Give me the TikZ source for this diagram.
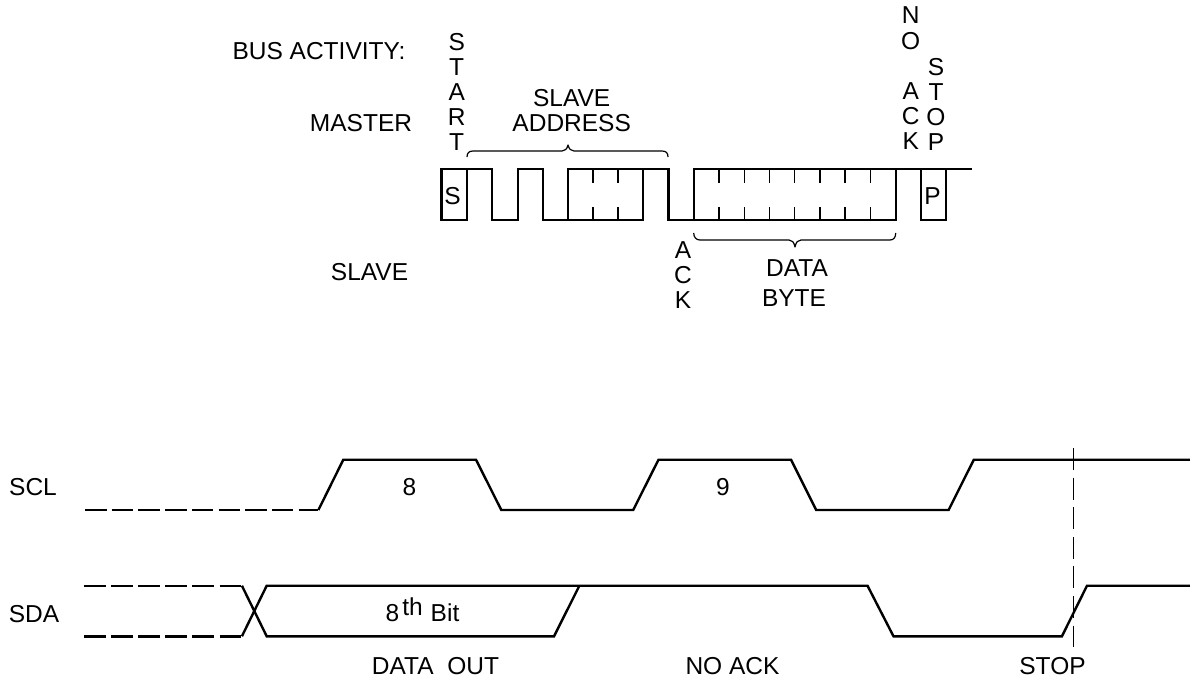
\documentclass[tikz,border=0pt]{standalone}
\usepackage{fontspec}
\setmainfont{Liberation Sans}
\tikzset{
  lbl/.style={inner sep=0pt,outer sep=0pt,anchor=base,align=center,font=\fontsize{24.5}{25.2}\selectfont},
  col/.style={inner sep=0pt,outer sep=0pt,anchor=north,align=center,font=\fontsize{24.5}{25.2}\selectfont},
  wave/.style={line width=2.4pt,line join=miter,line cap=butt},
  tick/.style={line width=1.3pt},
  bracepath/.style={line width=1.2pt,line join=round},
  lead/.style={line width=2.4pt,dash pattern=on 21.5pt off 5.2pt},
  leadb/.style={line width=2.4pt,dash pattern=on 21.5pt off 5.6pt},
  stopline/.style={line width=1.1pt,dash pattern=on 22pt off 7.6pt}
}
\begin{document}
\begin{tikzpicture}[x=1pt,y=-1pt]
\useasboundingbox (0,0) rectangle (1190,677);
% upper waveform
\draw[wave] (441.5,169) rectangle (466.8,220);
\draw[wave] (466.8,169) -- (492.2,169) -- (492.2,220) -- (517.7,220) -- (517.7,169) -- (542.9,169) -- (542.9,220) -- (567.9,220) -- (567.9,169) -- (668.3,169) -- (668.3,220) -- (693.7,220);
\draw[wave] (567.9,220) -- (643.2,220) -- (643.2,169);
\draw[wave] (693.7,220) -- (693.7,169) -- (972,169);
\draw[wave] (693.7,220) -- (895.7,220) -- (895.7,169);
\draw[wave] (920.7,169) rectangle (945.7,220);
\foreach \x in {593,618,719,744.5,769.5,794.7,820,845,870.7}{
  \draw[tick] (\x,169) -- (\x,183);
  \draw[tick] (\x,207) -- (\x,220);
}
% braces
\draw[bracepath] (467,157) .. controls (467,153) and (469,151) .. (473,151) -- (562,151) .. controls (565,151) and (567,149) .. (568,145) .. controls (569,149) and (571,151) .. (574,151) -- (662,151) .. controls (666,151) and (668,153) .. (668,157);
\draw[bracepath] (693.7,233) .. controls (693.7,237) and (696,240) .. (700,240) -- (789,240) .. controls (792,240) and (794,242) .. (795,247) .. controls (796,242) and (798,240) .. (801,240) -- (890,240) .. controls (894,240) and (895.7,237) .. (895.7,233);
% labels, upper part
\node[lbl] (busact) at (319,59.8) {BUS ACTIVITY:};
\node[lbl] (master) at (361,131.8) {MASTER};
\node[lbl] (slave) at (369.5,280.8) {SLAVE};
\node[lbl] (sbox) at (452.5,204) {S};
\node[lbl] (pbox) at (932.5,204) {P};
\node[col] (start) at (456.7,33) {S\\T\\A\\R\\T};
\node[col] (slaveaddr) at (571.7,89) {SLAVE\\ADDRESS};
\node[col] (ack) at (683,241.5) {A\\C\\K};
\node[col] (noack) at (910.7,7) {N\\O\\ \\A\\C\\K};
\node[col] (stopcol) at (936,58) {S\\T\\O\\P};
\node[lbl] (data) at (797,276) {DATA};
\node[lbl] (byte) at (794,306) {BYTE};
% lower waveforms
\coordinate (sclA) at (85,510);
\coordinate (sclB) at (318.4,510);
\coordinate (sdaHa) at (84,585.7);
\coordinate (sdaHb) at (241.9,585.7);
\coordinate (sdaLa) at (84,636.3);
\coordinate (sdaLb) at (241.9,636.3);
\draw[lead] (sclA) -- (sclB);
\draw[leadb] (sdaHa) -- (sdaHb);
\draw[leadb] (sdaLa) -- (sdaLb);
\draw[wave] (sclB) -- (343.3,459.7) -- (476,459.7) -- (501.3,510) -- (633.2,510) -- (658.5,459.7) -- (791,459.7) -- (816.2,510) -- (948.6,510) -- (973.8,459.7) -- (1190,459.7);
\draw[wave] (sdaHb) -- (266.7,636.3) -- (554,636.3) -- (579.4,585.7);
\draw[wave] (sdaLb) -- (266.7,585.7) -- (867.5,585.7) -- (893.5,636.3) -- (1061.9,636.3) -- (1087,585.7) -- (1190,585.7);
\draw[stopline] (1073.4,448) -- (1073.4,647);
% labels, lower part
\node[lbl] (scl) at (33,495) {SCL};
\node[lbl] (sda) at (34,622) {SDA};
\node[lbl] (eight) at (409.5,495) {8};
\node[lbl] (nine) at (723,495) {9};
\node[lbl] (bit) at (422.5,621) {8\kern3pt\raisebox{6pt}{th}\kern8pt Bit};
\node[lbl] (dataout) at (435.5,674) {DATA\ \ OUT};
\node[lbl] (noacklbl) at (732.5,674) {NO ACK};
\node[lbl] (stoplbl) at (1052.5,674) {STOP};
\end{tikzpicture}
\end{document}
